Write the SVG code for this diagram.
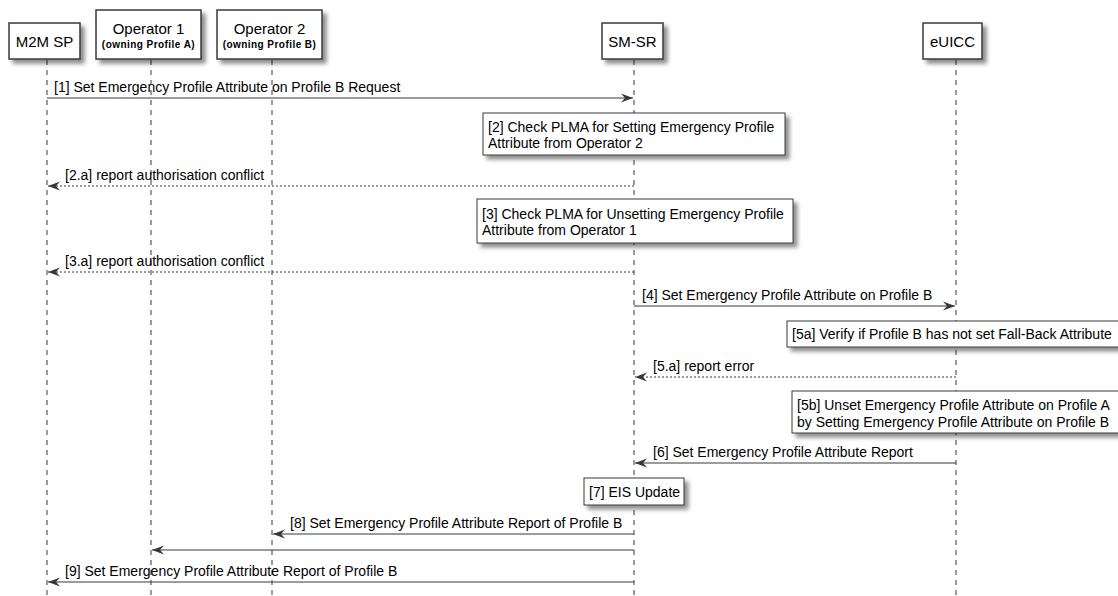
<svg xmlns="http://www.w3.org/2000/svg" width="1118" height="596" viewBox="0 0 1118 596">
<style>
.bg{fill:#ffffff}
.box{fill:#ffffff;stroke:#383838;stroke-width:1.5}
.note{fill:#ffffff;stroke:#383838;stroke-width:1}
.life{stroke:#383838;stroke-width:1;stroke-dasharray:5,5;fill:none}
.msg{stroke:#383838;stroke-width:1;fill:none}
.dash{stroke-dasharray:2,2}
.ht{font-family:"Liberation Sans",Arial,sans-serif;font-size:15px;fill:#000;text-anchor:middle}
.hs{font-family:"Liberation Sans",Arial,sans-serif;font-size:10px;font-weight:bold;letter-spacing:0.45px;fill:#000;text-anchor:middle}
.t{font-family:"Liberation Sans",Arial,sans-serif;font-size:14px;fill:#000}
</style>
<defs>
<filter id="sh" x="-20%" y="-20%" width="150%" height="160%">
<feGaussianBlur in="SourceAlpha" stdDeviation="2"/>
<feOffset dx="4" dy="4" result="o"/>
<feComponentTransfer in="o" result="s"><feFuncA type="linear" slope="0.45"/></feComponentTransfer>
<feMerge><feMergeNode in="s"/><feMergeNode in="SourceGraphic"/></feMerge>
</filter>
<marker id="ah" viewBox="0 0 12 10" refX="12" refY="5" markerWidth="12" markerHeight="10" markerUnits="userSpaceOnUse" orient="auto">
<path d="M0,0.5 L12,5 L0,9.5 L4,5 Z" fill="#383838"/>
</marker>
</defs>
<rect class="bg" x="0" y="0" width="1118" height="596"/>

<g id="lifelines">
<line class="life" x1="47" y1="60" x2="47" y2="596"/>
<line class="life" x1="151" y1="60" x2="151" y2="596"/>
<line class="life" x1="272" y1="60" x2="272" y2="596"/>
<line class="life" x1="634" y1="60" x2="634" y2="596"/>
<line class="life" x1="956" y1="60" x2="956" y2="596"/>
</g>

<g id="m2msp">
<rect class="box" x="9" y="23" width="71" height="36" filter="url(#sh)"/>
<text class="ht" x="44.5" y="47">M2M SP</text>
</g>
<g id="operator1">
<rect class="box" x="96" y="10" width="105" height="49" filter="url(#sh)"/>
<text class="ht" x="148.5" y="34">Operator 1</text>
<text class="hs" x="148.5" y="48">(owning Profile A)</text>
</g>
<g id="operator2">
<rect class="box" x="217" y="10" width="105" height="49" filter="url(#sh)"/>
<text class="ht" x="269.5" y="34">Operator 2</text>
<text class="hs" x="269.5" y="48">(owning Profile B)</text>
</g>
<g id="smsr">
<rect class="box" x="602" y="23" width="61" height="36" filter="url(#sh)"/>
<text class="ht" x="632.5" y="47">SM-SR</text>
</g>
<g id="euicc">
<rect class="box" x="923" y="23" width="59" height="36" filter="url(#sh)"/>
<text class="ht" x="952.5" y="47">eUICC</text>
</g>

<g id="connectors">
<line class="msg" x1="47" y1="98" x2="633" y2="98" marker-end="url(#ah)"/>
<text class="t" x="54" y="92">[1] Set Emergency Profile Attribute on Profile B Request</text>

<line class="msg dash" x1="634" y1="186" x2="48" y2="186" marker-end="url(#ah)"/>
<text class="t" x="65" y="180">[2.a] report authorisation conflict</text>

<line class="msg dash" x1="634" y1="272" x2="48" y2="272" marker-end="url(#ah)"/>
<text class="t" x="65" y="266">[3.a] report authorisation conflict</text>

<line class="msg" x1="634" y1="306" x2="955" y2="306" marker-end="url(#ah)"/>
<text class="t" x="642" y="300">[4] Set Emergency Profile Attribute on Profile B</text>

<line class="msg dash" x1="956" y1="377" x2="635" y2="377" marker-end="url(#ah)"/>
<text class="t" x="653" y="371">[5.a] report error</text>

<line class="msg" x1="956" y1="463" x2="635" y2="463" marker-end="url(#ah)"/>
<text class="t" x="653" y="457">[6] Set Emergency Profile Attribute Report</text>

<line class="msg" x1="634" y1="534" x2="273" y2="534" marker-end="url(#ah)"/>
<text class="t" x="290" y="528">[8] Set Emergency Profile Attribute Report of Profile B</text>

<line class="msg" x1="634" y1="550" x2="152" y2="550" marker-end="url(#ah)"/>

<line class="msg" x1="634" y1="582" x2="48" y2="582" marker-end="url(#ah)"/>
<text class="t" x="65" y="576">[9] Set Emergency Profile Attribute Report of Profile B</text>
</g>

<g id="note2">
<rect class="note" x="483" y="113" width="302" height="42" filter="url(#sh)"/>
<text class="t" x="488" y="132">[2] Check PLMA for Setting Emergency Profile</text>
<text class="t" x="488" y="148">Attribute from Operator 2</text>
</g>
<g id="note3">
<rect class="note" x="477" y="199" width="316" height="44" filter="url(#sh)"/>
<text class="t" x="482" y="219">[3] Check PLMA for Unsetting Emergency Profile</text>
<text class="t" x="482" y="235">Attribute from Operator 1</text>
</g>
<g id="note5a">
<rect class="note" x="787" y="321" width="345" height="26" filter="url(#sh)"/>
<text class="t" x="792" y="339">[5a] Verify if Profile B has not set Fall-Back Attribute</text>
</g>
<g id="note5b">
<rect class="note" x="792" y="391" width="340" height="42" filter="url(#sh)"/>
<text class="t" x="797" y="410">[5b] Unset Emergency Profile Attribute on Profile A</text>
<text class="t" x="797" y="427">by Setting Emergency Profile Attribute on Profile B</text>
</g>
<g id="note7">
<rect class="note" x="584" y="478" width="100" height="27" filter="url(#sh)"/>
<text class="t" x="589" y="497">[7] EIS Update</text>
</g>
</svg>
